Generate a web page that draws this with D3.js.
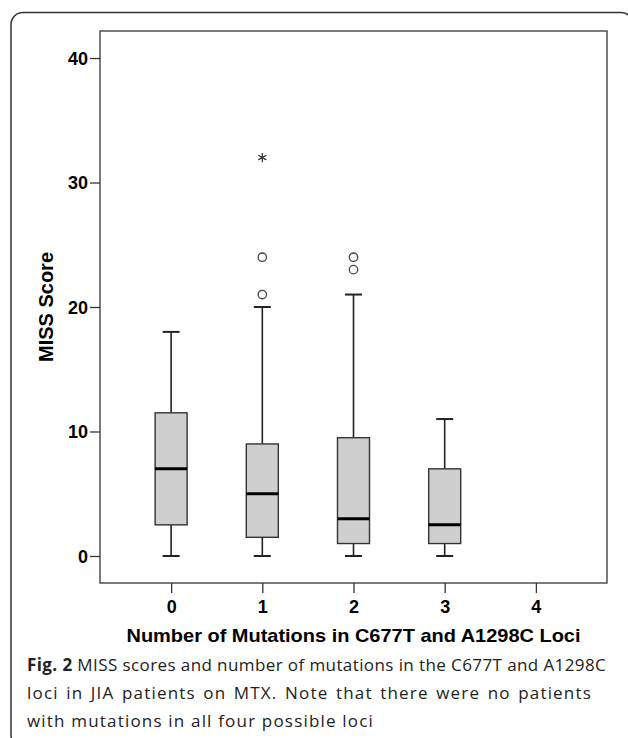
<!DOCTYPE html>
<html>
<head>
<meta charset="utf-8">
<style>
  body { margin: 0; background: #fff; }
  svg { display: block; }
  .axis text { font-family: "Liberation Sans", Arial, sans-serif; font-weight: bold; font-size: 18px; fill: #000; }
  .axis line { stroke: #333; stroke-width: 1.3px; }
</style>
</head>
<body>
<svg width="628" height="738"></svg>
<script src="https://d3js.org/d3.v7.min.js"></script>
<script>

// data
var groups = ["0", "1", "2", "3", "4"];
var lowWhisker = [0, 0, 0, 0, null];
var q1 = [2.5, 1.5, 1, 1, null];
var median = [7, 5, 3, 2.5, null];
var q3 = [11.5, 9, 9.5, 7, null];
var highWhisker = [18, 20, 21, 11, null];
var outliers = [[], [21, 24], [23, 24], [], []];
var extremes = [[], [32], [], [], []];
var yTicks = [0, 10, 20, 30, 40];

var svg = d3.select("svg");

// plot area (note: "top" is taken by window.top)
var plotL = 100, plotR = 607, plotT = 31, plotB = 583;

var x = d3.scalePoint().domain(groups).range([plotL, plotR]).padding(0.78);
var y = d3.scaleLinear().domain([-2.17, 42.17]).range([plotB, plotT]);

var boxW = 32, capW = 17;

// outer frame of the figure
svg.append("rect")
    .attr("x", 11).attr("y", 12.5)
    .attr("width", 622).attr("height", 735)
    .attr("rx", 12).attr("ry", 12)
    .attr("fill", "none").attr("stroke", "#333").attr("stroke-width", 1.5);

// plot frame
svg.append("rect")
    .attr("x", plotL).attr("y", plotT)
    .attr("width", plotR - plotL).attr("height", plotB - plotT)
    .attr("fill", "#fff").attr("stroke", "#444").attr("stroke-width", 1.4);

// axes
var yAxis = svg.append("g").attr("class", "axis")
    .attr("transform", "translate(" + plotL + ",0)")
    .call(d3.axisLeft(y).tickValues(yTicks).tickSize(10).tickPadding(2));
yAxis.select(".domain").remove();
yAxis.selectAll("text").attr("dy", "0.36em");

var xAxis = svg.append("g").attr("class", "axis")
    .attr("transform", "translate(0," + plotB + ")")
    .call(d3.axisBottom(x).tickSize(10).tickPadding(7));
xAxis.select(".domain").remove();

// boxes
var rows = groups.map(function(g, i) {
  return { g: g, lo: lowWhisker[i], q1: q1[i], med: median[i], q3: q3[i], hi: highWhisker[i],
           out: outliers[i], ext: extremes[i] };
});

var box = svg.append("g").selectAll("g")
    .data(rows.filter(function(d) { return d.med != null; }))
    .enter().append("g")
    .attr("transform", function(d) { return "translate(" + x(d.g) + ",0)"; });

box.append("line")
    .attr("x1", 0).attr("x2", 0)
    .attr("y1", function(d) { return y(d.hi); })
    .attr("y2", function(d) { return y(d.q3); })
    .attr("stroke", "#222").attr("stroke-width", 1.6);

box.append("line")
    .attr("x1", 0).attr("x2", 0)
    .attr("y1", function(d) { return y(d.q1); })
    .attr("y2", function(d) { return y(d.lo); })
    .attr("stroke", "#222").attr("stroke-width", 1.6);

box.append("line")
    .attr("x1", -capW / 2).attr("x2", capW / 2)
    .attr("y1", function(d) { return y(d.hi); })
    .attr("y2", function(d) { return y(d.hi); })
    .attr("stroke", "#222").attr("stroke-width", 2);

box.append("line")
    .attr("x1", -capW / 2).attr("x2", capW / 2)
    .attr("y1", function(d) { return y(d.lo); })
    .attr("y2", function(d) { return y(d.lo); })
    .attr("stroke", "#222").attr("stroke-width", 2);

box.append("rect")
    .attr("x", -boxW / 2).attr("width", boxW)
    .attr("y", function(d) { return y(d.q3); })
    .attr("height", function(d) { return y(d.q1) - y(d.q3); })
    .attr("fill", "#cfcfcf").attr("stroke", "#333").attr("stroke-width", 1.4);

box.append("line")
    .attr("x1", -boxW / 2).attr("x2", boxW / 2)
    .attr("y1", function(d) { return y(d.med); })
    .attr("y2", function(d) { return y(d.med); })
    .attr("stroke", "#000").attr("stroke-width", 3);

box.selectAll("circle")
    .data(function(d) { return d.out; })
    .enter().append("circle")
    .attr("cx", 0).attr("cy", function(v) { return y(v); })
    .attr("r", 4.2)
    .attr("fill", "#fff").attr("stroke", "#444").attr("stroke-width", 1.3);

box.selectAll("path.ext")
    .data(function(d) { return d.ext; })
    .enter().append("path")
    .attr("class", "ext")
    .attr("transform", function(v) { return "translate(0," + y(v) + ")"; })
    .attr("d", d3.symbol(d3.symbolAsterisk, 60))
    .attr("fill", "none").attr("stroke", "#333").attr("stroke-width", 1.3);

// axis titles
svg.append("text")
    .attr("x", (plotL + plotR) / 2).attr("y", 642)
    .attr("text-anchor", "middle")
    .attr("textLength", 454).attr("lengthAdjust", "spacingAndGlyphs")
    .style("font-family", "'Liberation Sans', Arial, sans-serif")
    .style("font-weight", "bold").style("font-size", "19px")
    .text("Number of Mutations in C677T and A1298C Loci");

svg.append("text")
    .attr("transform", "translate(52.5," + (plotT + plotB) / 2 + ") rotate(-90)")
    .attr("text-anchor", "middle")
    .style("font-family", "'Liberation Sans', Arial, sans-serif")
    .style("font-weight", "bold").style("font-size", "20px")
    .text("MISS Score");

// caption
var cap = svg.append("g")
    .style("font-family", "'Open Sans', 'Noto Sans', sans-serif")
    .style("font-size", "17px").style("fill", "#222");

var l1 = cap.append("text").attr("x", 27).attr("y", 671);
l1.append("tspan").style("font-weight", "bold").text("Fig. 2");
l1.append("tspan").text(" MISS scores and number of mutations in the C677T and A1298C");

var l2 = cap.append("text").attr("x", 27).attr("y", 699)
    .text("loci in JIA patients on MTX. Note that there were no patients");

var l3 = cap.append("text").attr("x", 27).attr("y", 727)
    .text("with mutations in all four possible loci");

// same light tracking on every line (set by the last, unjustified line),
// then the first two lines are justified by widening the word gaps
var track = (347 - l3.node().getComputedTextLength()) / l3.text().length;
cap.selectAll("text").style("letter-spacing", track + "px");

function justify(t, width) {
  var gaps = t.text().split(" ").length - 1;
  var extra = width - t.node().getComputedTextLength();
  if (extra > 0) t.style("word-spacing", (extra / gaps) + "px");
  else t.attr("textLength", width);
}
justify(l1, 580);
justify(l2, 565);

</script>
</body>
</html>
